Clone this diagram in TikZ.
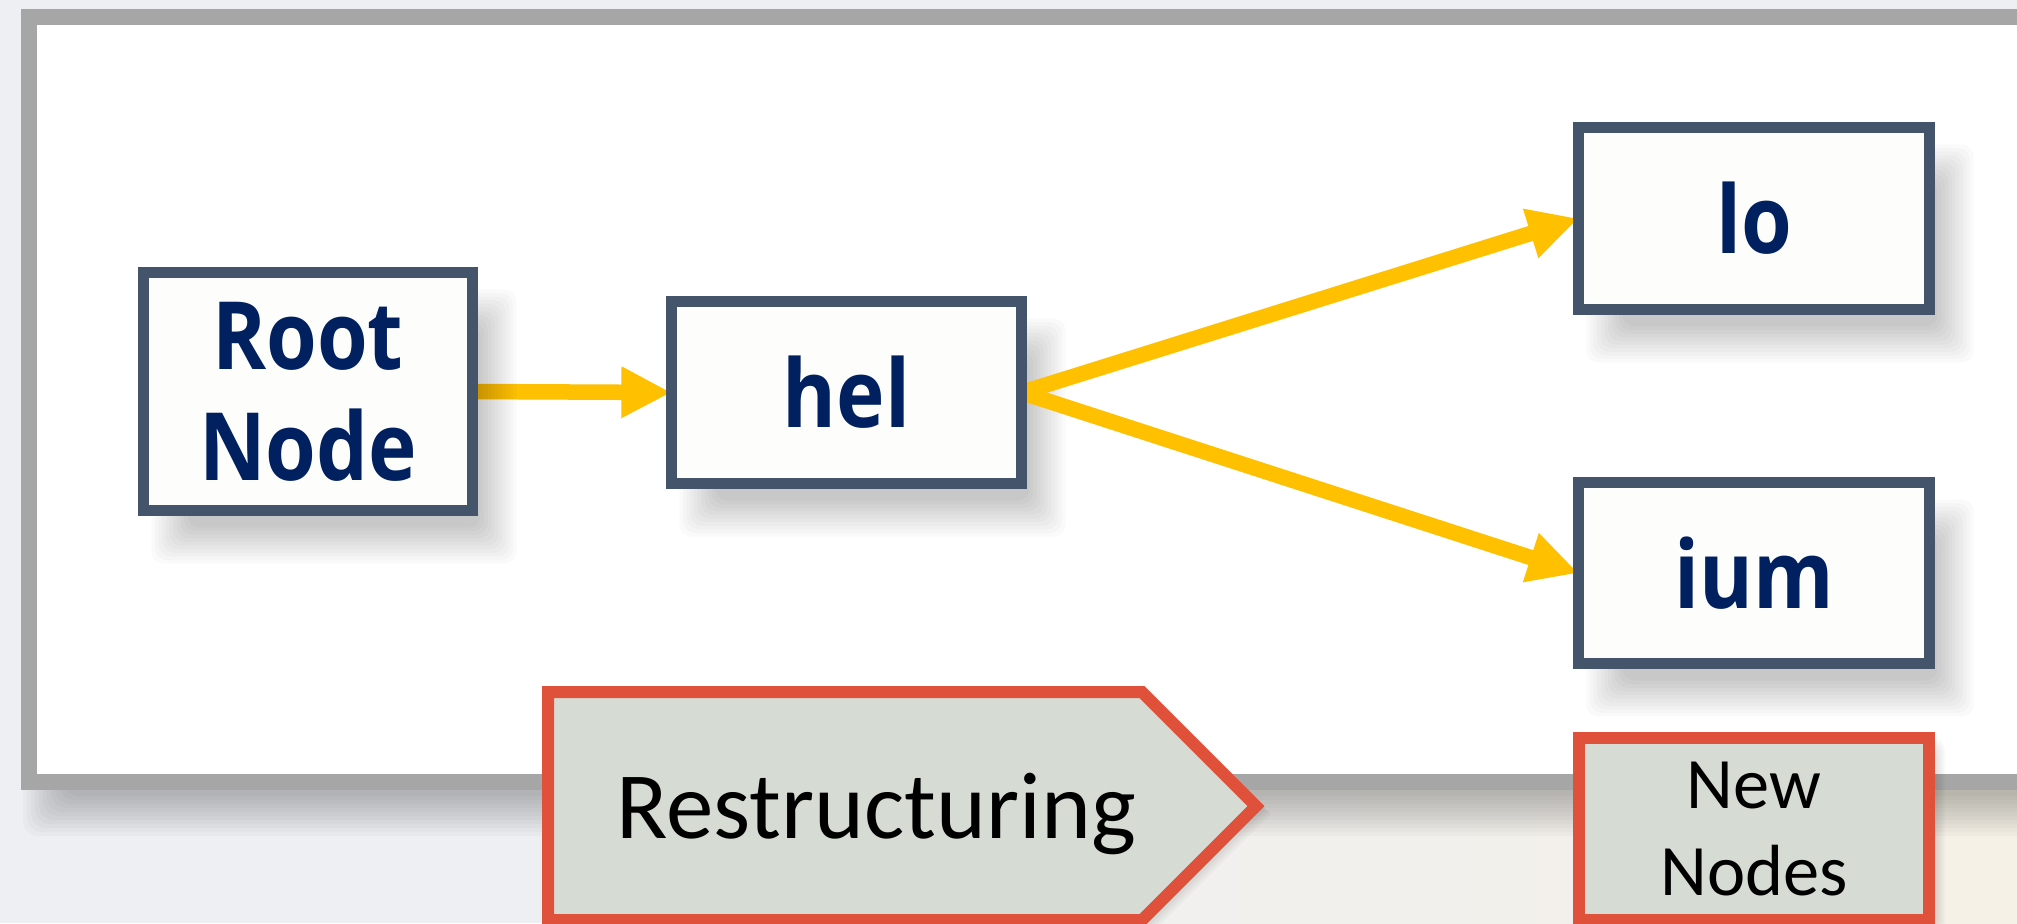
\documentclass[tikz,border=0pt]{standalone}
\usepackage{fontspec}
\setmainfont{Carlito}
\newfontfamily\nodefont{Open Sans}[FakeStretch=0.87]
\usetikzlibrary{arrows.meta,calc}
\definecolor{nodeborder}{HTML}{44546A}
\definecolor{nodefill}{HTML}{FDFDFB}
\definecolor{navytext}{HTML}{002060}
\definecolor{arrowyellow}{HTML}{FFC000}
\definecolor{redborder}{HTML}{E0513B}
\definecolor{greyfill}{HTML}{D6DCD4}
\definecolor{framegrey}{HTML}{A6A6A6}
\definecolor{bggrey}{HTML}{EEEFF2}
\definecolor{bgbeige}{HTML}{F5F1E7}
\pgfdeclarelayer{bglayer}
\pgfdeclarelayer{shadowlayer}
\pgfdeclarelayer{arrowlayer}
\pgfdeclarelayer{rshadowlayer}
\pgfsetlayers{bglayer,shadowlayer,arrowlayer,rshadowlayer,main}
% soft shadow of a node: node, dx, dy, opacity per layer, spread
\newcommand\nodeshadow[5]{%
  \foreach \k in {-5,...,5} {
    \fill[black, opacity=#4, rounded corners=0.12cm]
      ($(#1.north west)+({#2-(\k)*(#5)/5},{#3-(\k)*(#5)/5})$) rectangle
      ($(#1.south east)+({#2+(\k)*(#5)/5},{#3+(\k)*(#5)/5})$);
  }%
}
\begin{document}
\begin{tikzpicture}[x=0.01cm,y=-0.01cm,
  treenode/.style={draw=nodeborder, line width=0.11cm, fill=nodefill, text=navytext,
    font=\nodefont\bfseries\fontsize{26.8}{31.5}\selectfont, align=center,
    inner sep=0pt, outer sep=0pt},
  newbox/.style={draw=redborder, line width=0.12cm, fill=greyfill, text=black,
    font=\fontsize{20.6}{25}\selectfont, align=center, inner sep=0pt, outer sep=0pt},
  conn/.style={draw=arrowyellow, line width=0.155cm, -{Triangle[length=0.5cm,width=0.48cm]}},
]
\useasboundingbox (0,0) rectangle (2017,923);
% nodes
\node[treenode, minimum width=3.29cm, minimum height=2.38cm] (root) at (308,391.5) {Root\\Node};
\node[treenode, minimum width=3.50cm, minimum height=1.82cm] (hel) at (846.5,392.5) {hel};
\node[treenode, minimum width=3.51cm, minimum height=1.82cm] (lo) at (1754,218.5) {lo};
\node[treenode, minimum width=3.51cm, minimum height=1.81cm] (ium) at (1754,573) {ium};
% restructuring banner
\draw[draw=redborder, line width=0.12cm, fill=greyfill]
  (548,692) -- (1142,692) -- (1256,806) -- (1142,920) -- (548,920) -- cycle;
\node[anchor=base, inner sep=0pt, text=black, font=\fontsize{27}{32}\selectfont] (restr) at (876,838) {Restructuring};
% new nodes
\node[newbox, minimum width=3.50cm, minimum height=1.82cm] (newn) at (1754,829) {New\\Nodes};
% background and frame
\begin{pgfonlayer}{bglayer}
  \fill[bggrey] (0,0) rectangle (2017,923);
  \shade[left color=bggrey, right color=bgbeige] (700,790) rectangle (2017,923);
  \foreach \k in {-5,...,5} {
    \fill[black, opacity=0.024, rounded corners=0.15cm]
      ({29+14-(\k)*4},{17+34-(\k)*4}) rectangle ({2080+14+(\k)*4},{782+34+(\k)*4});
  }
  \draw[framegrey, line width=0.16cm, fill=white] (29,17) rectangle (2080,782);
\end{pgfonlayer}
% shadows
\begin{pgfonlayer}{shadowlayer}
  \nodeshadow{hel}{26}{35}{0.021}{18}
  \nodeshadow{lo}{26}{35}{0.021}{18}
  \nodeshadow{ium}{26}{35}{0.021}{18}
  \nodeshadow{newn}{8}{8}{0.02}{8}
  \foreach \s in {3,6,...,15} {
    \fill[black, opacity=0.03, xshift=\s*0.01cm, yshift=-\s*0.005cm]
      (548,692) -- (1142,692) -- (1256,806) -- (1142,920) -- (548,920) -- cycle;
  }
\end{pgfonlayer}
% connectors
\begin{pgfonlayer}{arrowlayer}
  \draw[conn] (root.east) -- (hel.west);
  \draw[conn] (hel.east) -- (lo.west);
  \draw[conn] (hel.east) -- (ium.west);
\end{pgfonlayer}
\begin{pgfonlayer}{rshadowlayer}
  \nodeshadow{root}{26}{35}{0.021}{18}
\end{pgfonlayer}
\end{tikzpicture}
\end{document}
